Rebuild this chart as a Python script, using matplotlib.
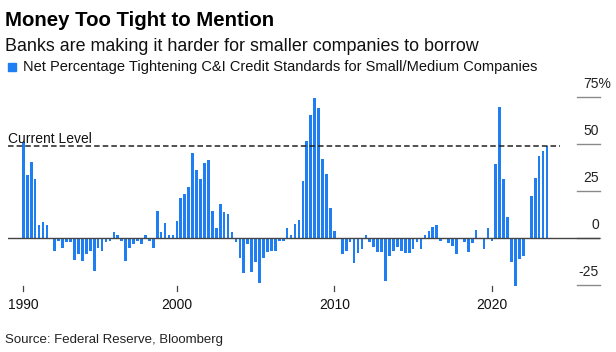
import matplotlib
matplotlib.use("Agg")
import matplotlib.pyplot as plt
import matplotlib.transforms as mtransforms
from matplotlib.patches import Rectangle
import numpy as np
import pandas as pd

plt.rcParams["font.family"] = ["Liberation Sans", "DejaVu Sans"]
plt.rcParams["lines.scale_dashes"] = False

# Net % of banks tightening C&I standards, small/medium firms, quarterly from 1990Q2
START_QUARTER = "1990Q2"
values = [
    51.1, 33.7, 40.8, 31.6, 6.9, 8.9, 7.1, 0.0, -6.7, -1.2,
    -5.3, -1.8, -1.8, -11.5, -8.3, -12.0, -8.5, -6.6, -17.4, -5.0,
    -6.7, -1.8, -1.2, 3.5, 1.8, -1.4, -12.0, -5.0, -3.2, -1.4,
    -3.2, 1.8, -1.4, -5.0, 14.7, 3.5, 8.3, 1.8, 1.8, 9.4,
    21.6, 23.4, 27.1, 45.6, 36.3, 31.6, 40.2, 41.7, 14.5, 5.7,
    18.3, 13.8, 12.8, 3.5, -1.8, -10.6, -18.6, -3.2, -17.7, -12.8,
    -23.6, -10.6, -7.1, -6.7, -6.7, -1.4, -1.4, 5.7, 1.8, 7.4,
    9.8, 30.5, 51.8, 65.6, 74.5, 69.1, 42.2, 34.0, 16.3, 3.9,
    0.0, -8.5, -6.7, -1.8, -12.9, -8.0, -5.9, 1.8, -1.8, -4.4,
    -7.4, -7.4, -22.7, -9.2, -6.7, -4.4, -6.7, -8.0, -8.0, -5.5,
    -1.8, -5.8, 1.6, 4.1, 5.8, 7.0, -1.2, 0.0, -2.5, -3.9,
    -8.5, 0.0, -2.2, -7.4, -2.7, 4.4, 0.0, -5.7, 5.7, -1.2,
    39.7, 70.0, 31.4, 11.5, -12.8, -25.5, -10.8, -9.2, 0.0, 22.3,
    31.9, 43.8, 46.6, 49.2,
]
y_ticks = [-25, 0, 25, 50, 75]
y_labels = ["-25", "0", "25", "50", "75%"]
x_ticks = [1990.25, 2000, 2010, 2020]
x_labels = ["1990", "2000", "2010", "2020"]

BLUE = "#1f7ef2"
W, H = 616, 352


def fx(px):
    return px / W


def fy(py):
    return 1 - py / H


periods = pd.period_range(START_QUARTER, periods=len(values), freq="Q")
dates = np.array([p.year + (p.quarter - 1) / 4 for p in periods])
current = values[-1]

fig = plt.figure(figsize=(W / 100, H / 100), dpi=100)

# axes: 8..600 px wide, 80..295 px tall
px_per_year = 15.75
x0 = dates[0] - (23.3 - 8) / px_per_year
x1 = x0 + (600 - 8) / px_per_year
ax = fig.add_axes([fx(8), fy(295), fx(600 - 8), (295 - 80) / H])
ax.set_xlim(x0, x1)
ax.set_ylim((238.3 - 295) / 1.88, (238.3 - 80) / 1.88)
ax.axis("off")

ax.bar(dates, values, width=0.17, color=BLUE, zorder=2)
ax.axhline(0, color="#444444", lw=1, zorder=3)
ax.axhline(current, xmin=0, xmax=(560 - 8) / 592, color="#222222", lw=1.1,
           dashes=(4, 2.2), zorder=4)
ax.text(dates[0] - 15.3 / px_per_year, current + 1.6, "Current Level", fontsize=10,
        ha="left", va="baseline", color="#111111")

# right-hand y ticks (labels sit above their tick lines)
tr = mtransforms.blended_transform_factory(ax.transAxes, ax.transData)
for v, lab in zip(y_ticks, y_labels):
    ax.plot([(577 - 8) / 592, 1.0], [v, v], transform=tr, color="#8a8a8a", lw=1,
            clip_on=False)
    if lab.endswith("%"):
        ax.text((583 - 8) / 592, v + 3.4, lab, transform=tr, fontsize=10, ha="left",
                va="bottom", color="#222222", clip_on=False)
    else:
        ax.text((599 - 8) / 592, v + 3.4, lab, transform=tr, fontsize=10, ha="right",
                va="bottom", color="#222222")

# x ticks
trx = mtransforms.blended_transform_factory(ax.transData, fig.transFigure)
for xt, lab in zip(x_ticks, x_labels):
    ax.plot([xt, xt], [fy(286), fy(291)], transform=trx, color="#444444", lw=0.9,
            clip_on=False)
    fig.text(xt, fy(309), lab, transform=trx, fontsize=10, ha="center", va="baseline",
             color="#111111")

# header
fig.text(fx(5), fy(26), "Money Too Tight to Mention", fontsize=14.7, fontweight="bold",
         ha="left", va="baseline", color="#000000")
fig.text(fx(5), fy(51), "Banks are making it harder for smaller companies to borrow",
         fontsize=12.9, ha="left", va="baseline", color="#111111")
fig.patches.append(Rectangle((fx(8), fy(71)), fx(8), 8 / H, transform=fig.transFigure,
                             color=BLUE))
fig.text(fx(23), fy(71),
         "Net Percentage Tightening C&I Credit Standards for Small/Medium Companies",
         fontsize=10.5, ha="left", va="baseline", color="#111111")
fig.text(fx(5), fy(343), "Source: Federal Reserve, Bloomberg", fontsize=9.5, ha="left",
         va="baseline", color="#222222")

fig.savefig("out.png", dpi=100)
